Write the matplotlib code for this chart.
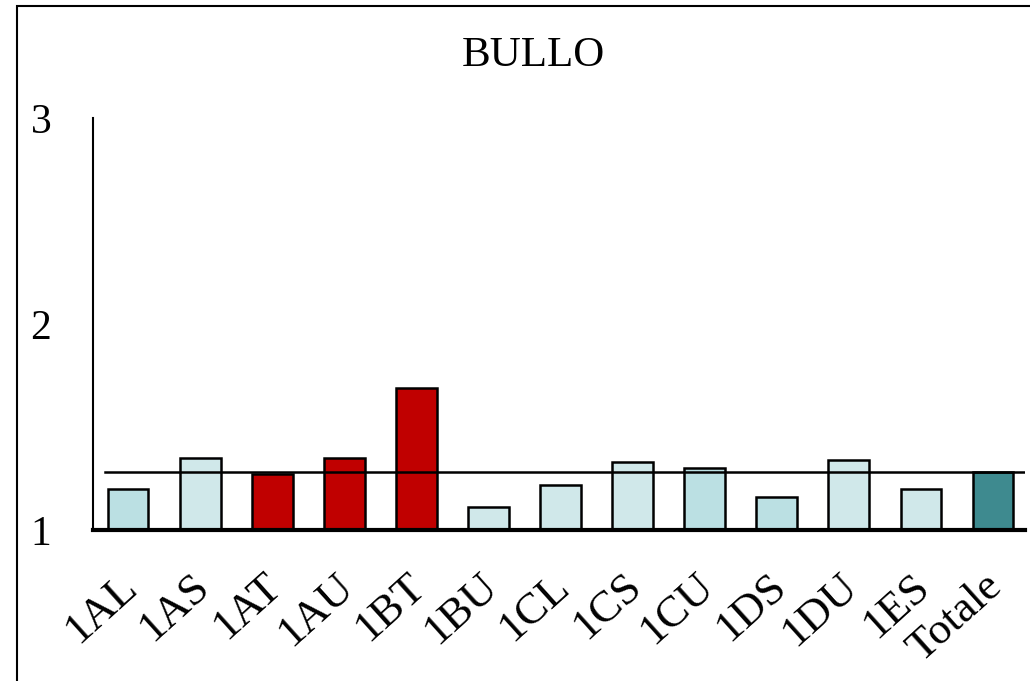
import matplotlib.pyplot as plt
from matplotlib.patches import Rectangle
from matplotlib.transforms import ScaledTranslation

classes = ["1AL", "1AS", "1AT", "1AU", "1BT", "1BU", "1CL",
           "1CS", "1CU", "1DS", "1DU", "1ES", "Totale"]
values = [1.20, 1.35, 1.27, 1.35, 1.69, 1.11, 1.22,
          1.33, 1.30, 1.16, 1.34, 1.20, 1.28]
colors = ["#bbe0e3", "#d0e8ea", "#c00000", "#c00000", "#c00000", "#d0e8ea", "#d0e8ea",
          "#d0e8ea", "#bbe0e3", "#bbe0e3", "#d0e8ea", "#d0e8ea", "#3e8a8f"]
media = 1.28

plt.rcParams['font.family'] = ['Liberation Serif', 'DejaVu Serif']

fig = plt.figure(figsize=(10.3, 6.81), dpi=100)
ax = fig.add_axes([0.0903, 0.2217, 0.905, 0.605])

pos = list(range(len(classes)))
ax.bar(pos, [v - 1 for v in values], bottom=1, width=0.56, color=colors,
       edgecolor='black', linewidth=1.8, zorder=2)
ax.plot([-0.33, 12.45], [media, media], color='black', linewidth=1.8, zorder=3)

ax.set_xlim(-0.49, 12.45)
ax.set_ylim(1, 3)
ax.set_yticks([1, 2, 3])
ax.tick_params(axis='y', length=0, pad=30, labelsize=30)
ax.tick_params(axis='x', length=0, pad=26, labelsize=32)
ax.set_xticks(pos)
ax.set_xticklabels(classes, rotation=42, ha='right', rotation_mode='anchor')
# etichette spostate un po' a sinistra
for lab in ax.get_xticklabels():
    lab.set_transform(lab.get_transform() + ScaledTranslation(-0.1, 0, fig.dpi_scale_trans))

for s in ['top', 'right']:
    ax.spines[s].set_visible(False)
ax.spines['left'].set_linewidth(1.5)
ax.spines['bottom'].set_linewidth(3)

fig.text(0.518, 0.918, "BULLO", ha='center', va='center', fontsize=31)

# cornice esterna
fig.patches.append(Rectangle((17 / 1030, -0.1), 1.2, 1.1 - 6 / 681, transform=fig.transFigure,
                             fill=False, edgecolor='black', linewidth=1.5, figure=fig))

fig.savefig("out.png", dpi=100)
